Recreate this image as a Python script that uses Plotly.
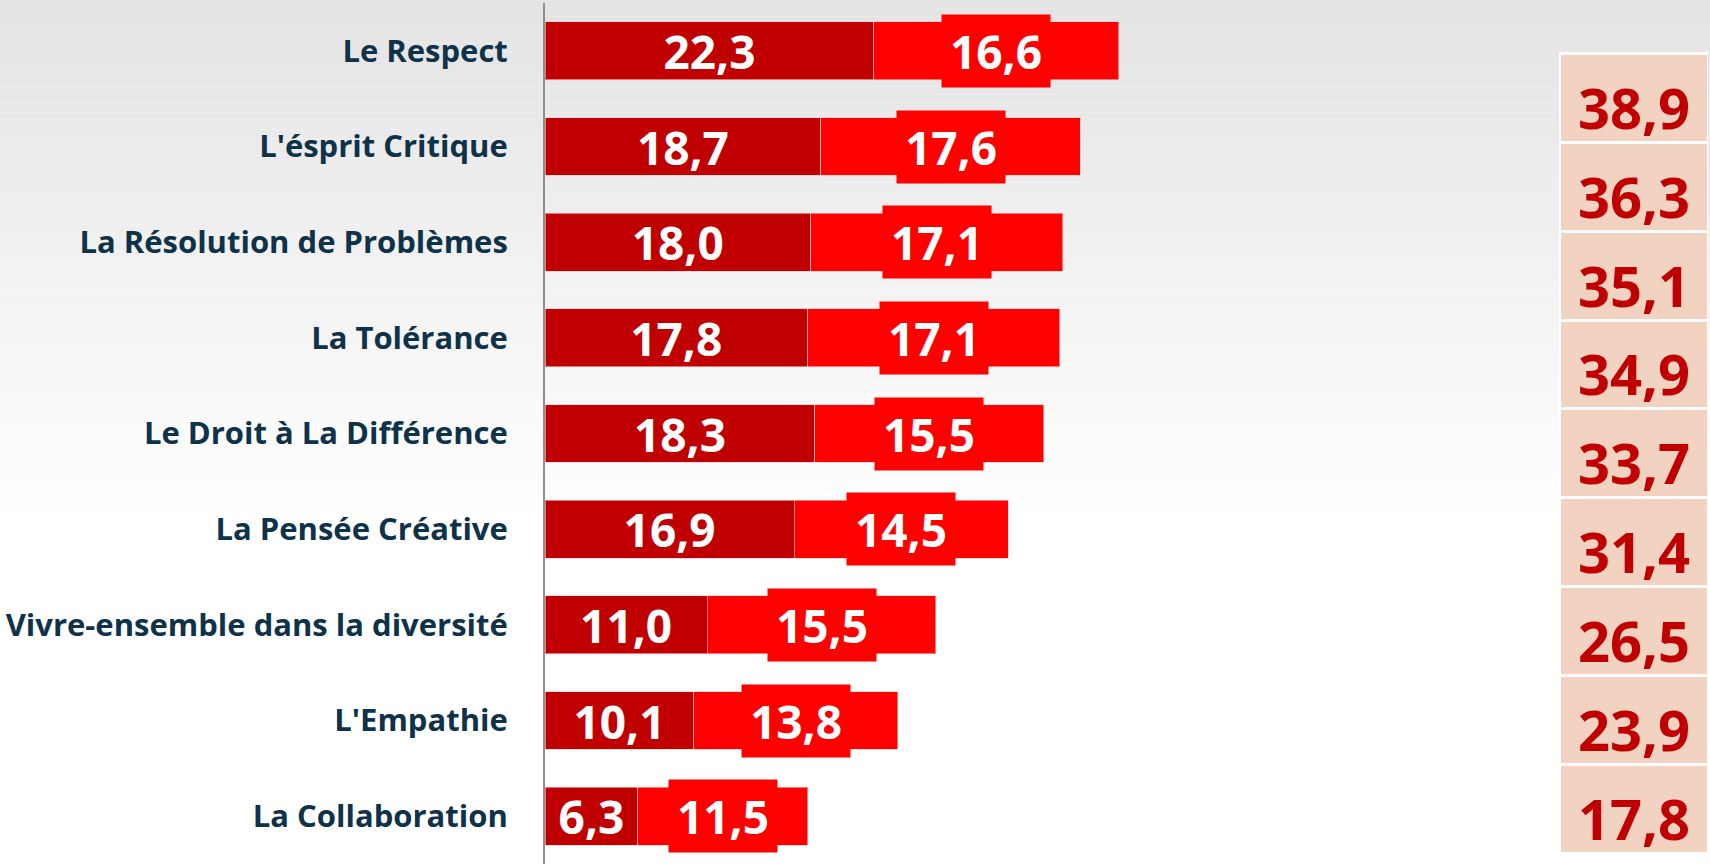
import plotly.graph_objects as go

categories = ["Le Respect", "L'ésprit Critique", "La Résolution de Problèmes", "La Tolérance",
              "Le Droit à La Différence", "La Pensée Créative", "Vivre-ensemble dans la diversité",
              "L'Empathie", "La Collaboration"]
dark_values = [22.3, 18.7, 18.0, 17.8, 18.3, 16.9, 11.0, 10.1, 6.3]
red_values = [16.6, 17.6, 17.1, 17.1, 15.5, 14.5, 15.5, 13.8, 11.5]
totals = [38.9, 36.3, 35.1, 34.9, 33.7, 31.4, 26.5, 23.9, 17.8]


def fr(v):
    return f"{v:.1f}".replace(".", ",")


W, H = 1710, 864
ML, MR, MT, MB = 545, 0, 3, 0
PW = W - ML - MR
PH = H - MT - MB
FONT = "Open Sans"
DARK = "#C00000"
RED = "#FF0000"
LABEL = "#0E3249"

fig = go.Figure()

fig.add_trace(go.Bar(
    y=categories, x=dark_values, orientation="h", name="a",
    marker=dict(color=DARK, line=dict(color="rgba(255,200,200,0.6)", width=1)),
    text=[fr(v) for v in dark_values], textposition="inside", insidetextanchor="middle",
    constraintext="none",
    textfont=dict(family=FONT, size=46, color="white", weight="bold"),
    xaxis="x", yaxis="y", hoverinfo="skip",
))
fig.add_trace(go.Bar(
    y=categories, x=red_values, orientation="h", name="b",
    marker=dict(color=RED, line=dict(color="rgba(255,200,200,0.6)", width=1)),
    xaxis="x", yaxis="y", hoverinfo="skip",
))
# totals column
fig.add_trace(go.Bar(
    y=categories, x=[1] * len(totals), orientation="h", name="t",
    marker=dict(color="#F2D3C1", line=dict(color="white", width=3)),
    xaxis="x2", yaxis="y2", hoverinfo="skip",
))

annotations = []
for c, d, r in zip(categories, dark_values, red_values):
    annotations.append(dict(
        x=d + r / 2, y=c, xref="x", yref="y", text=fr(r), showarrow=False,
        bgcolor=RED, borderpad=0, width=108, height=72,
        font=dict(family=FONT, size=46, color="white", weight="bold"),
    ))
for c, t in zip(categories, totals):
    annotations.append(dict(
        x=0.5, y=c, xref="x2", yref="y2", text=fr(t), showarrow=False,
        yshift=-9,
        font=dict(family=FONT, size=56, color=DARK, weight="bold"),
    ))

# background gradient strips
shapes = []
N = 60
grad_px = 520
for i in range(N):
    p0 = i * grad_px / N
    p1 = (i + 1) * grad_px / N
    f = (i + 0.5) / N
    g = int(round(227 + (255 - 227) * f))
    shapes.append(dict(
        type="rect", xref="paper", yref="paper", layer="below",
        x0=-1, x1=1.1, y0=(H - MB - p1 + 0.5) / PH, y1=(H - MB - p0 + 0.5) / PH,
        fillcolor=f"rgb({g},{g},{g})", line=dict(width=0),
    ))

main_end = 60 * 14.75 / PW
fig.update_layout(
    width=W, height=H, autosize=False,
    margin=dict(l=ML, r=MR, t=MT, b=MB, pad=0),
    template="none",
    paper_bgcolor="white", plot_bgcolor="rgba(0,0,0,0)",
    barmode="stack", bargap=0.394, showlegend=False,
    xaxis=dict(domain=[0, main_end], range=[0, 60], visible=False, fixedrange=True),
    yaxis=dict(domain=[0, 1], autorange="reversed", type="category",
               showline=True, linecolor="#8E8E8E", linewidth=2,
               showgrid=False, zeroline=False, ticks="", ticklabelstandoff=29,
               automargin=False,
               tickfont=dict(family=FONT, size=31, color=LABEL, weight="bold")),
    xaxis2=dict(domain=[(1559 - ML) / PW, (1708 - ML) / PW], range=[0, 1],
                visible=False, anchor="y2"),
    yaxis2=dict(domain=[(H - MB - 853) / PH, (H - MB - 49) / PH], autorange="reversed",
                type="category", visible=False, anchor="x2"),
    annotations=annotations,
    shapes=shapes,
)
fig.update_traces(selector=dict(name="t"), width=1.0)

fig.write_html("out.html", config={"displayModeBar": False},
               post_script="document.body.style.margin='0';document.body.style.overflow='hidden';")
